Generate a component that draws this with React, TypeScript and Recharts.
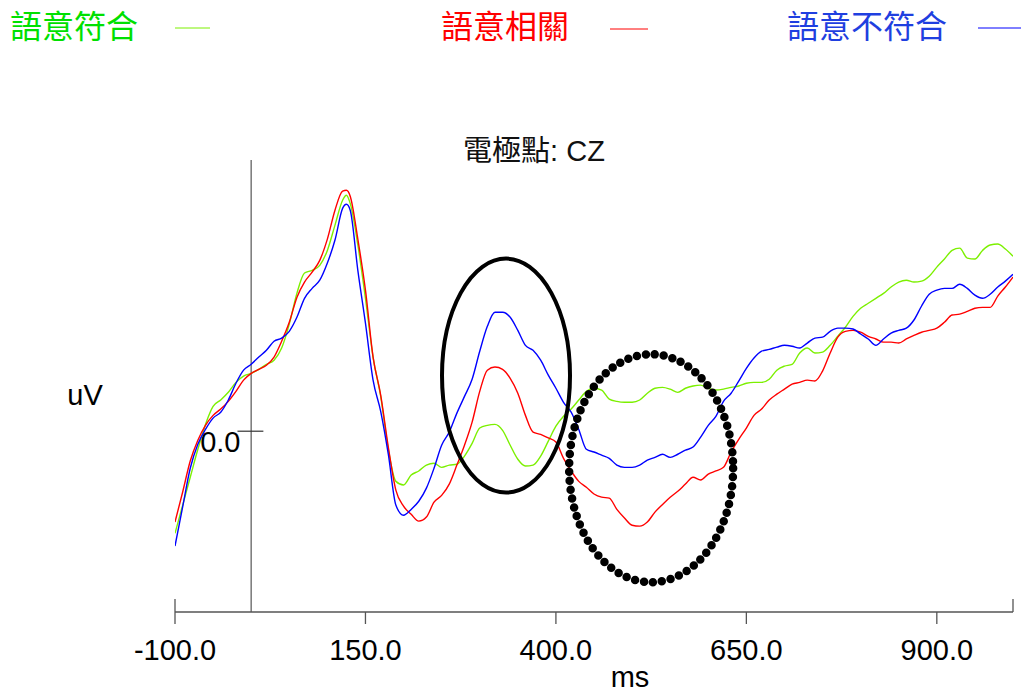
import { LineChart, Line, XAxis, YAxis, ReferenceLine, ReferenceDot } from 'recharts';

// 時間 (ms) — 125 加上去是為了抓住峰值
const TIME_MS = [
  -100, -90, -80, -70, -60, -50, -40, -30, -20, -10, 0, 10, 20, 30, 40, 50, 60, 70, 80, 90, 100, 110, 120, 125,
  130, 140, 150, 160, 170, 180, 190, 200, 210, 220, 230, 240, 250, 260, 270, 280, 290, 300, 310, 320, 330, 340,
  350, 360, 370, 380, 390, 400, 410, 420, 430, 440, 450, 460, 470, 480, 490, 500, 510, 520, 530, 540, 550, 560,
  570, 580, 590, 600, 610, 620, 630, 640, 650, 660, 670, 680, 690, 700, 710, 720, 730, 740, 750, 760, 770, 780,
  790, 800, 810, 820, 830, 840, 850, 860, 870, 880, 890, 900, 910, 920, 930, 940, 950, 960, 970, 980, 990, 1000,
];

// 語意符合 (uV)
const MATCH_UV = [
  -2.26, -1.64, -1.02, -0.4, 0.15, 0.55, 0.69, 0.86, 1.08, 1.22, 1.28, 1.37, 1.48, 1.57, 1.84, 2.37, 3.05, 3.5, 3.56, 3.67, 4.0, 4.56, 5.11, 5.22,
  5.04, 4.12, 2.94, 1.64, 0.77, -0.4, -1.11, -1.19, -0.97, -0.88, -0.75, -0.71, -0.8, -0.75, -0.73, -0.55, -0.27, 0.07, 0.13, 0.15, 0.02, -0.31,
  -0.62, -0.77, -0.75, -0.55, -0.22, 0.11, 0.33, 0.49, 0.69, 0.88, 0.95, 0.91, 0.71, 0.66, 0.64, 0.64, 0.69, 0.84, 0.95, 0.97, 0.93, 0.86,
  0.95, 1.0, 1.02, 0.95, 0.91, 0.93, 0.97, 1.0, 1.06, 1.08, 1.08, 1.15, 1.35, 1.44, 1.48, 1.73, 1.84, 1.73, 1.75, 1.9, 2.1, 2.3,
  2.54, 2.72, 2.83, 2.94, 3.05, 3.19, 3.3, 3.34, 3.3, 3.32, 3.43, 3.63, 3.81, 4.0, 4.05, 3.83, 3.81, 4.0, 4.12, 4.14, 4.03, 3.87,
];

// 語意相關 (uV)
const RELATED_UV = [
  -2.01, -1.35, -0.66, -0.2, 0.13, 0.35, 0.49, 0.66, 0.88, 1.13, 1.28, 1.37, 1.46, 1.64, 1.99, 2.41, 2.96, 3.3, 3.52, 3.78, 4.25, 4.89, 5.31, 5.33,
  5.2, 4.25, 3.12, 1.64, 0.8, -0.35, -1.31, -1.66, -1.84, -1.99, -1.9, -1.57, -1.42, -1.17, -0.75, -0.31, 0.2, 0.88, 1.35, 1.42, 1.37, 1.17,
  0.84, 0.35, -0.02, -0.07, -0.15, -0.24, -0.6, -0.88, -1.11, -1.24, -1.39, -1.46, -1.48, -1.73, -1.92, -2.08, -2.1, -2.01, -1.79, -1.62, -1.46, -1.33,
  -1.17, -1.02, -1.08, -0.95, -0.88, -0.8, -0.46, -0.18, 0.07, 0.35, 0.49, 0.69, 0.82, 0.93, 1.04, 1.08, 1.13, 1.11, 1.33, 1.73, 2.08, 2.21,
  2.23, 2.19, 2.1, 2.04, 1.97, 1.97, 1.95, 2.04, 2.12, 2.19, 2.23, 2.28, 2.41, 2.57, 2.59, 2.65, 2.72, 2.74, 2.74, 2.99, 3.19, 3.41,
];

// 語意不符合 (uV)
const MISMATCH_UV = [
  -2.54, -1.68, -0.82, -0.29, 0.04, 0.29, 0.42, 0.69, 1.06, 1.35, 1.48, 1.64, 1.79, 1.99, 2.06, 2.21, 2.52, 2.94, 3.16, 3.34, 3.72, 4.23, 4.93, 5.02,
  4.89, 3.56, 2.39, 1.13, 0.44, -0.51, -1.64, -1.86, -1.73, -1.55, -1.26, -0.82, -0.31, -0.02, 0.4, 0.77, 1.15, 1.77, 2.32, 2.63, 2.63, 2.52,
  2.23, 1.9, 1.79, 1.57, 1.24, 0.95, 0.64, 0.42, 0.04, -0.4, -0.46, -0.53, -0.6, -0.75, -0.8, -0.8, -0.75, -0.64, -0.58, -0.51, -0.58, -0.51,
  -0.42, -0.35, -0.13, 0.13, 0.33, 0.66, 0.84, 1.11, 1.39, 1.62, 1.77, 1.81, 1.86, 1.9, 1.88, 1.84, 1.95, 2.06, 2.08, 2.21, 2.28, 2.28,
  2.26, 2.15, 2.04, 1.9, 2.04, 2.17, 2.23, 2.28, 2.46, 2.77, 3.03, 3.12, 3.16, 3.16, 3.25, 3.16, 3.01, 2.94, 3.03, 3.19, 3.32, 3.47,
];

const X_TICKS = [-100, 150, 400, 650, 900];

// 圈起來的時窗中心 [ms, uV]
const P300_WINDOW = [334.5, 1.23];
const N400_WINDOW = [525, -0.82];

const SERIES = [
  { key: 'match', name: '語意符合', color: '#7cf000', text: '#00e000' },
  { key: 'related', name: '語意相關', color: '#ff0000', text: '#ff0000' },
  { key: 'mismatch', name: '語意不符合', color: '#0000ff', text: '#1f3fe0' },
];

const LATIN = '"Liberation Sans", Arial, "Noto Sans CJK TC", sans-serif';
const CJK = '"Noto Sans CJK TC", "Liberation Sans", sans-serif';

const data = TIME_MS.map((t, i) => ({
  t,
  match: MATCH_UV[i],
  related: RELATED_UV[i],
  mismatch: MISMATCH_UV[i],
}));

function ZeroLabel(props: any) {
  const vb = props.viewBox ?? {};
  return (
    <text x={vb.x + 3} y={vb.y + 21} textAnchor="end" fontSize={29} fontFamily={LATIN} fill="#000">
      0.0
    </text>
  );
}

export default function App() {
  return (
    <div style={{ position: 'relative', width: 1021, height: 695, background: '#fff' }}>
      <style>{'body{margin:0}'}</style>
      <LineChart width={1021} height={695} data={data} margin={{ top: 160, right: 8, bottom: 23, left: 175 }}>
        <XAxis
          dataKey="t"
          type="number"
          domain={[-100, 1000]}
          ticks={X_TICKS}
          interval={0}
          allowDataOverflow
          tickFormatter={(v: number) => v.toFixed(1)}
          tick={{ fontSize: 29, fill: '#000', fontFamily: LATIN }}
          axisLine={{ stroke: '#555', strokeWidth: 1.3 }}
          tickLine={{ stroke: '#555', strokeWidth: 1.3 }}
          tickSize={12}
          tickMargin={15}
          height={60}
        />
        <YAxis type="number" domain={[-4, 6]} allowDataOverflow hide />
        <ReferenceLine x={0} stroke="#777" strokeWidth={1.5} />
        <ReferenceLine
          segment={[{ x: -18, y: 0 }, { x: 16, y: 0 }]}
          stroke="#333"
          strokeWidth={1.2}
          label={<ZeroLabel />}
        />
        <ReferenceLine segment={[{ x: -100, y: -4 }, { x: -100, y: -3.71 }]} stroke="#555" strokeWidth={1.3} />
        <ReferenceLine segment={[{ x: 1000, y: -4 }, { x: 1000, y: -3.71 }]} stroke="#555" strokeWidth={1.3} />
        {SERIES.map((s) => (
          <Line
            key={s.key}
            dataKey={s.key}
            name={s.name}
            type="monotone"
            stroke={s.color}
            strokeWidth={1.4}
            dot={false}
            isAnimationActive={false}
          />
        ))}
        <ReferenceDot
          x={P300_WINDOW[0]}
          y={P300_WINDOW[1]}
          shape={(p: any) => (
            <ellipse cx={p.cx} cy={p.cy} rx={64} ry={117} fill="none" stroke="#000" strokeWidth={4} />
          )}
        />
        <ReferenceDot
          x={N400_WINDOW[0]}
          y={N400_WINDOW[1]}
          shape={(p: any) => (
            <ellipse
              cx={p.cx}
              cy={p.cy}
              rx={82}
              ry={114}
              fill="none"
              stroke="#000"
              strokeWidth={8.5}
              strokeDasharray="0 9"
              strokeLinecap="round"
            />
          )}
        />
      </LineChart>
      <svg
        width={1021}
        height={695}
        style={{ position: 'absolute', left: 0, top: 0, pointerEvents: 'none' }}
      >
        <text x={10} y={38} fontSize={32} fontFamily={CJK} fill={SERIES[0].text}>{SERIES[0].name}</text>
        <line x1={175} x2={210} y1={28} y2={28} stroke={SERIES[0].color} strokeWidth={1} />
        <text x={441} y={38} fontSize={32} fontFamily={CJK} fill={SERIES[1].text}>{SERIES[1].name}</text>
        <line x1={610} x2={648} y1={29} y2={29} stroke={SERIES[1].color} strokeWidth={1} />
        <text x={787} y={38} fontSize={32} fontFamily={CJK} fill={SERIES[2].text}>{SERIES[2].name}</text>
        <line x1={978} x2={1021} y1={28} y2={28} stroke={SERIES[2].color} strokeWidth={1} />
        <text x={534} y={161} textAnchor="middle" fontSize={29} fontFamily={LATIN} fill="#111">電極點: CZ</text>
        <text x={85} y={405} textAnchor="middle" fontSize={29} fontFamily={LATIN} fill="#000">uV</text>
        <text x={630} y={687} textAnchor="middle" fontSize={29} fontFamily={LATIN} fill="#000">ms</text>
      </svg>
    </div>
  );
}
